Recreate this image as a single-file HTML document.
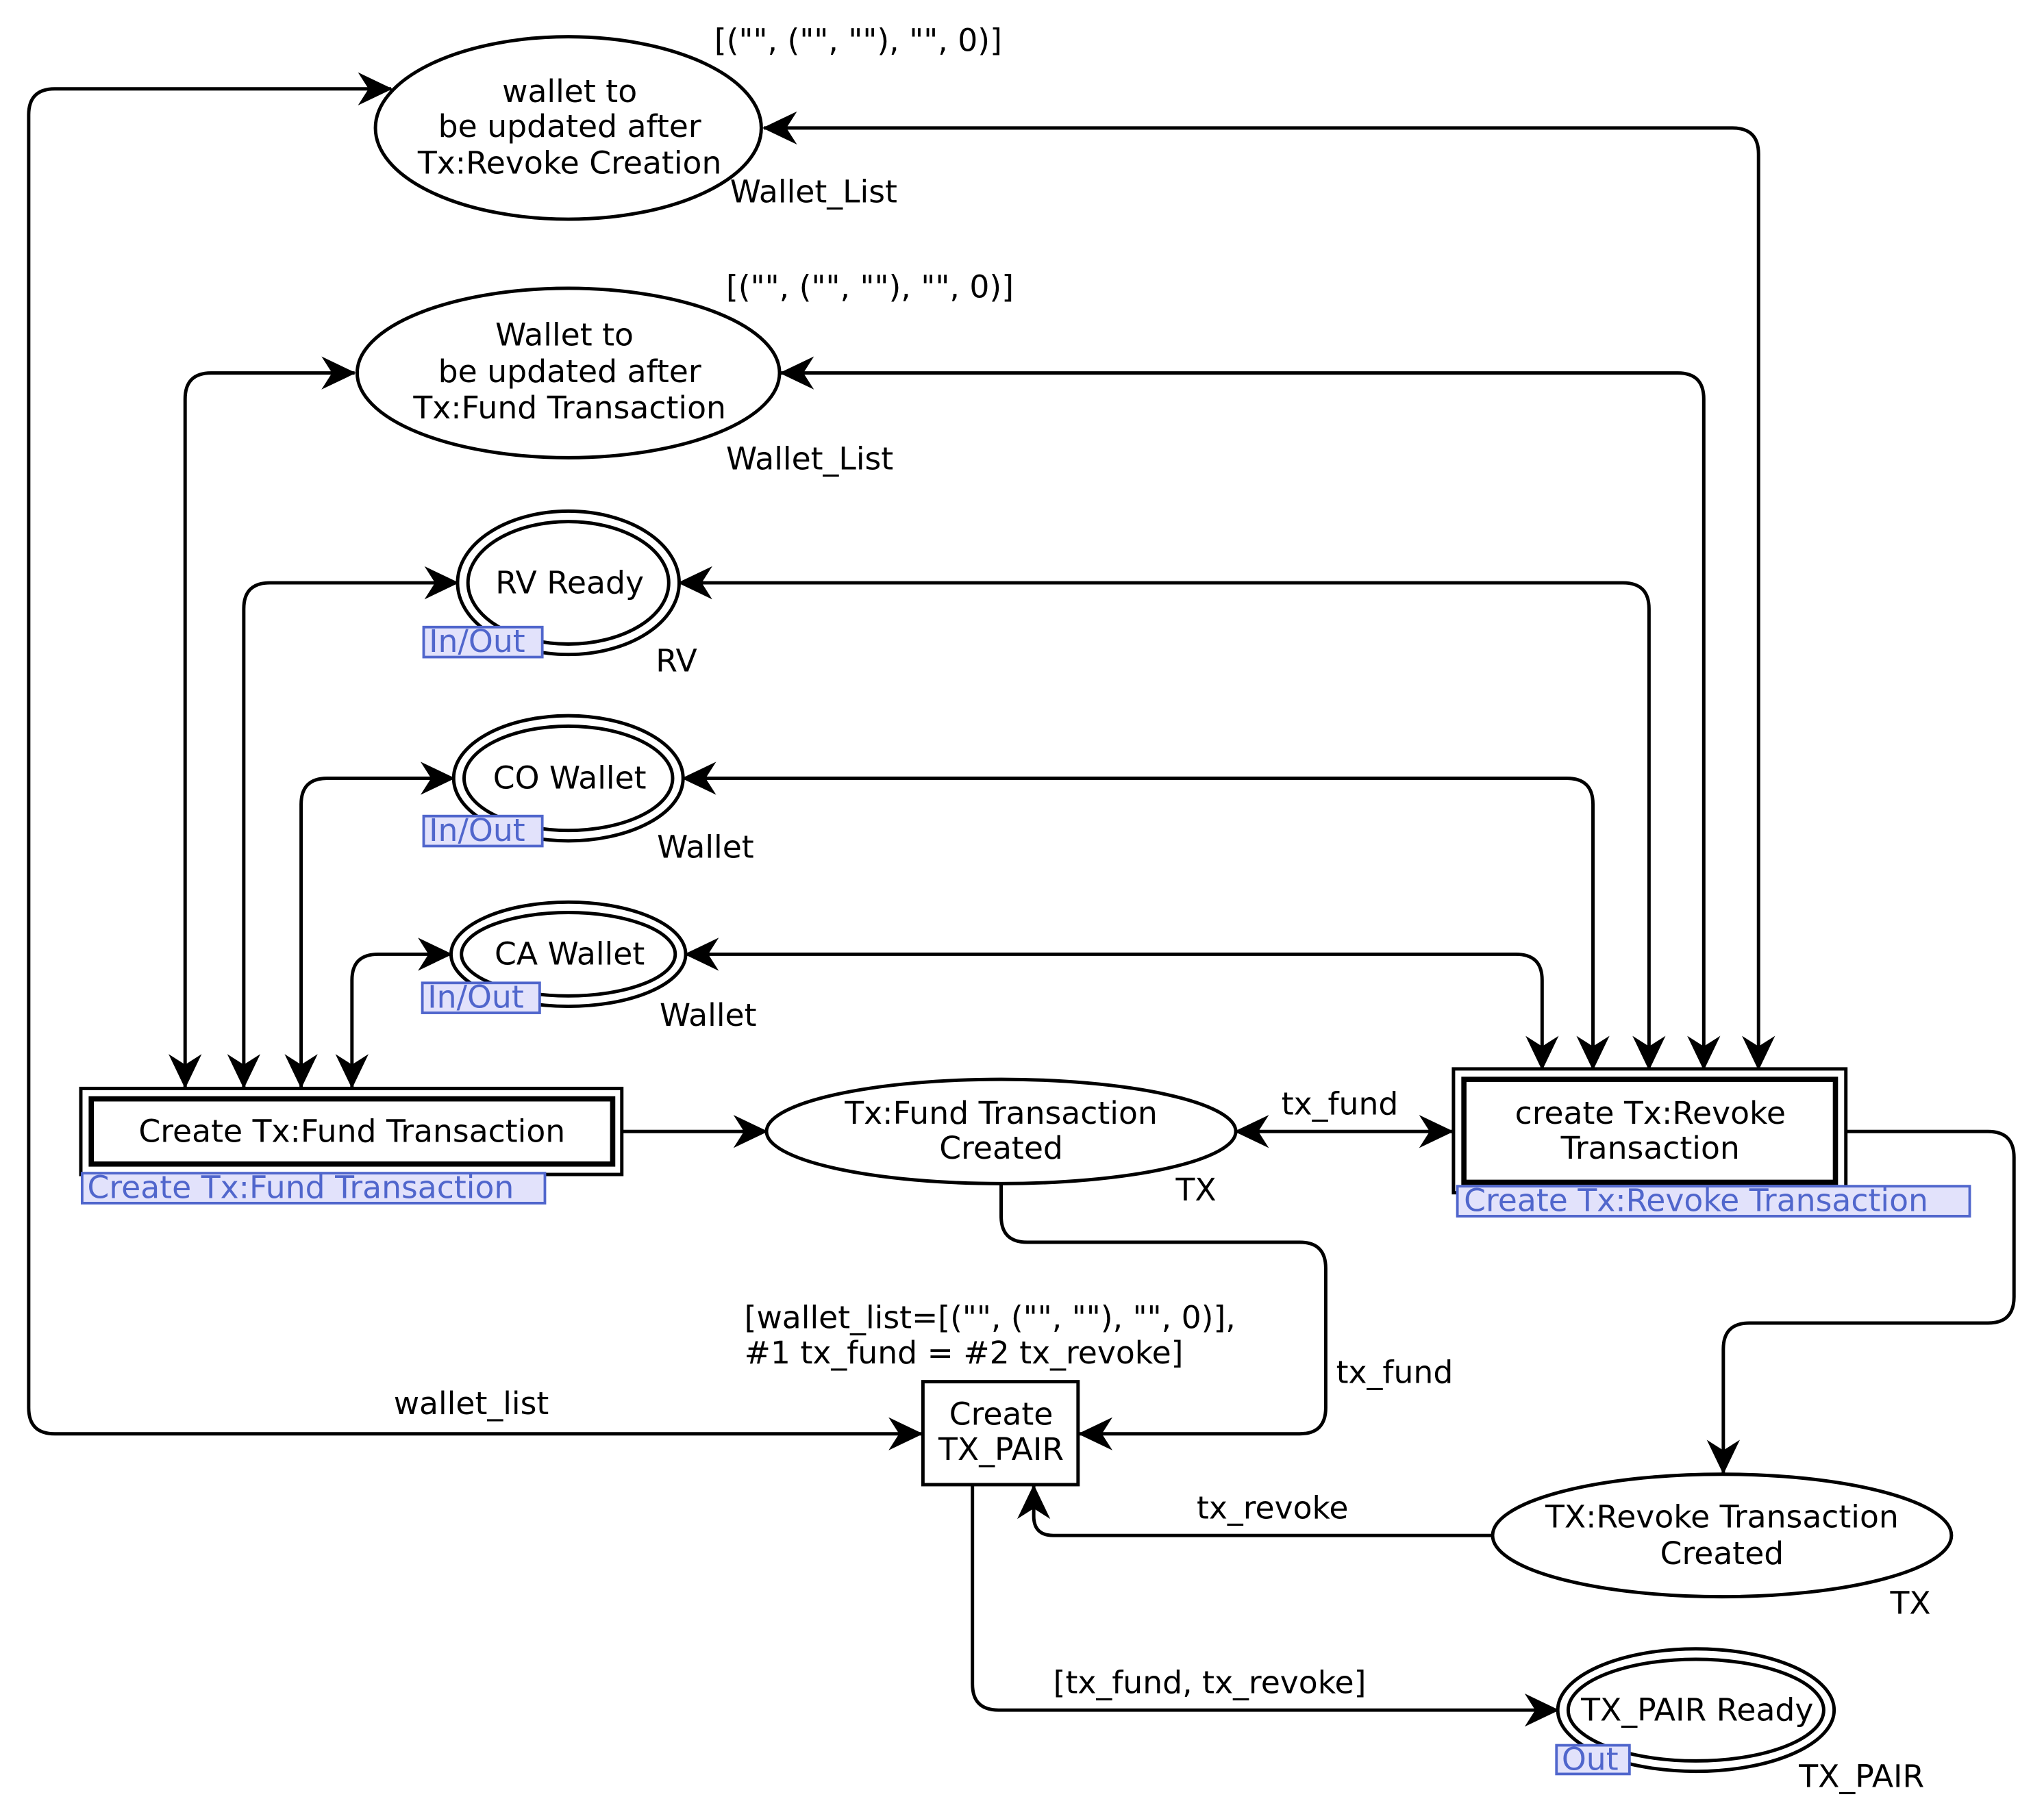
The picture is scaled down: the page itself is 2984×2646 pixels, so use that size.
<!DOCTYPE html>
<html><head><meta charset="utf-8"><style>
html,body{margin:0;padding:0;background:#fff;}
svg{display:block;}
text{font-family:"DejaVu Sans","Liberation Sans",sans-serif;font-size:24px;fill:#000;}
.lb{fill:#5066cc;}
</style></head><body>
<svg width="2984" height="2646" viewBox="0 0 1568 1390" xmlns="http://www.w3.org/2000/svg">
<defs>
<marker id="a" markerUnits="userSpaceOnUse" markerWidth="30" markerHeight="30" refX="0" refY="0" viewBox="-24 -12 26 24" orient="auto-start-reverse">
<path d="M1,0 L-22,-11 L-15,0 L-22,11 Z" fill="#000"/>
</marker>
</defs>
<g fill="none" stroke="#000" stroke-width="2.6">
<path d="M707,1100 H42 Q22,1100 22,1080 V88 Q22,68 42,68 H300" marker-start="url(#a)" marker-end="url(#a)"/>
<path d="M586,98 H1329 Q1349,98 1349,118 V820" marker-start="url(#a)" marker-end="url(#a)"/>
<path d="M272,286 H162 Q142,286 142,306 V834" marker-start="url(#a)" marker-end="url(#a)"/>
<path d="M599,286 H1287 Q1307,286 1307,306 V820" marker-start="url(#a)" marker-end="url(#a)"/>
<path d="M351,447 H207 Q187,447 187,467 V834" marker-start="url(#a)" marker-end="url(#a)"/>
<path d="M521,447 H1245 Q1265,447 1265,467 V820" marker-start="url(#a)" marker-end="url(#a)"/>
<path d="M348,597 H251 Q231,597 231,617 V834" marker-start="url(#a)" marker-end="url(#a)"/>
<path d="M524,597 H1202 Q1222,597 1222,617 V820" marker-start="url(#a)" marker-end="url(#a)"/>
<path d="M346,732 H290 Q270,732 270,752 V834" marker-start="url(#a)" marker-end="url(#a)"/>
<path d="M526,732 H1163 Q1183,732 1183,752 V820" marker-start="url(#a)" marker-end="url(#a)"/>
<path d="M477,868 H588" marker-end="url(#a)"/>
<path d="M948,868 H1114" marker-start="url(#a)" marker-end="url(#a)"/>
<path d="M768,908 V933 Q768,953 788,953 H997 Q1017,953 1017,973 V1080 Q1017,1100 997,1100 H828" marker-end="url(#a)"/>
<path d="M1416,868 H1525 Q1545,868 1545,888 V995 Q1545,1015 1525,1015 H1342 Q1322,1015 1322,1035 V1130" marker-end="url(#a)"/>
<path d="M1145,1178 H808 Q793,1178 793,1163 V1140" marker-end="url(#a)"/>
<path d="M746,1139 V1292 Q746,1312 766,1312 H1195" marker-end="url(#a)"/>
</g>
<g fill="#fff" stroke="#000" stroke-width="2.6">
<ellipse cx="436" cy="98" rx="148" ry="70"/>
<ellipse cx="436" cy="286" rx="162" ry="65"/>
<ellipse cx="436" cy="447" rx="85" ry="55"/>
<ellipse cx="436" cy="447" rx="77" ry="47"/>
<ellipse cx="436" cy="597" rx="88" ry="48"/>
<ellipse cx="436" cy="597" rx="80" ry="40"/>
<ellipse cx="436" cy="732" rx="90" ry="40"/>
<ellipse cx="436" cy="732" rx="82" ry="32"/>
<ellipse cx="768" cy="868" rx="180" ry="40"/>
<ellipse cx="1321" cy="1178" rx="176" ry="47"/>
<ellipse cx="1301" cy="1312" rx="106" ry="47"/>
<ellipse cx="1301" cy="1312" rx="98" ry="39"/>
<rect x="62" y="835" width="415" height="66"/>
<rect x="70" y="843" width="400" height="50" stroke-width="4"/>
<rect x="1115" y="820" width="301" height="95"/>
<rect x="1123" y="828" width="285" height="79" stroke-width="4"/>
<rect x="708" y="1060" width="119" height="79"/>
</g>
<g fill="#e2e2fb" stroke="#5066cc" stroke-width="2">
<rect x="325" y="481" width="91" height="23"/>
<rect x="325" y="626" width="91" height="23"/>
<rect x="324" y="754" width="90" height="23"/>
<rect x="63" y="900" width="355" height="23"/>
<rect x="1118" y="910" width="393" height="23"/>
<rect x="1194" y="1339" width="56" height="22"/>
</g>
<g text-anchor="middle">
<text x="437" y="78">wallet to</text>
<text x="437" y="105">be updated after</text>
<text x="437" y="133">Tx:Revoke Creation</text>
<text x="433" y="265">Wallet to</text>
<text x="437" y="293">be updated after</text>
<text x="437" y="321">Tx:Fund Transaction</text>
<text x="437" y="455">RV Ready</text>
<text x="437" y="605">CO Wallet</text>
<text x="437" y="740">CA Wallet</text>
<text x="270" y="876">Create Tx:Fund Transaction</text>
<text x="768" y="862">Tx:Fund Transaction</text>
<text x="768" y="889">Created</text>
<text x="1266" y="862">create Tx:Revoke</text>
<text x="1266" y="889">Transaction</text>
<text x="768" y="1093">Create</text>
<text x="768" y="1120">TX_PAIR</text>
<text x="1321" y="1172">TX:Revoke Transaction</text>
<text x="1321" y="1200">Created</text>
<text x="1302" y="1320">TX_PAIR Ready</text>
</g>
<g>
<text x="548" y="39">[("", ("", ""), "", 0)]</text>
<text x="560" y="155">Wallet_List</text>
<text x="557" y="228">[("", ("", ""), "", 0)]</text>
<text x="557" y="360">Wallet_List</text>
<text x="503" y="515">RV</text>
<text x="504" y="658">Wallet</text>
<text x="506" y="787">Wallet</text>
<text x="902" y="921">TX</text>
<text x="983" y="855">tx_fund</text>
<text x="571" y="1019">[wallet_list=[("", ("", ""), "", 0)],</text>
<text x="571" y="1046">#1 tx_fund = #2 tx_revoke]</text>
<text x="1025" y="1061">tx_fund</text>
<text x="302" y="1085">wallet_list</text>
<text x="918" y="1165">tx_revoke</text>
<text x="1450" y="1238">TX</text>
<text x="808" y="1299">[tx_fund, tx_revoke]</text>
<text x="1380" y="1371">TX_PAIR</text>
<text class="lb" x="329" y="500">In/Out</text>
<text class="lb" x="329" y="645">In/Out</text>
<text class="lb" x="328" y="773">In/Out</text>
<text class="lb" x="67" y="919">Create Tx:Fund Transaction</text>
<text class="lb" x="1123" y="929">Create Tx:Revoke Transaction</text>
<text class="lb" x="1198" y="1358">Out</text>
</g>
</svg>
</body></html>
